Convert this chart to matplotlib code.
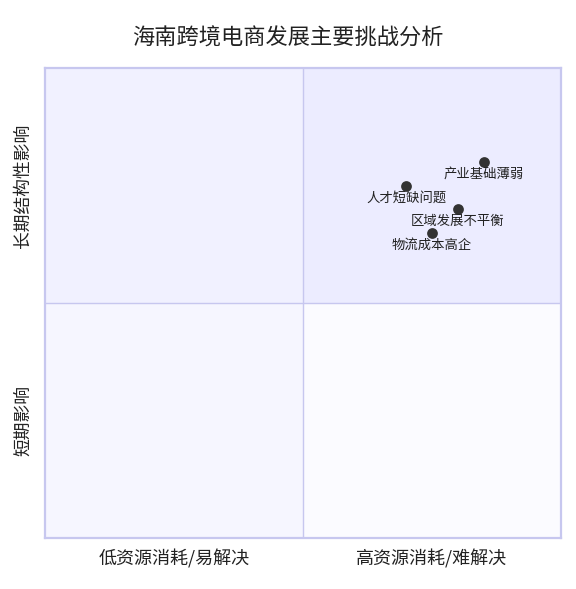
import matplotlib
matplotlib.use("Agg")
import matplotlib.pyplot as plt
from matplotlib.patches import Rectangle

plt.rcParams['font.family'] = ['Noto Sans CJK SC', 'DejaVu Sans']

title = "海南跨境电商发展主要挑战分析"
x_labels = ["低资源消耗/易解决", "高资源消耗/难解决"]
y_labels = ["短期影响", "长期结构性影响"]
point_names = ["产业基础薄弱", "人才短缺问题", "区域发展不平衡", "物流成本高企"]
point_x = [0.85, 0.70, 0.80, 0.75]
point_y = [0.80, 0.75, 0.70, 0.65]

W, H = 576, 589
fig = plt.figure(figsize=(W / 100, H / 100), dpi=100)
L, R, T, B = 45, 561, 68, 538
ax = fig.add_axes([L / W, (H - B) / H, (R - L) / W, (B - T) / H])
ax.set_xlim(0, 1)
ax.set_ylim(0, 1)

fills = {(1, 1): "#ECECFF", (0, 1): "#F1F1FF", (0, 0): "#F6F6FF", (1, 0): "#FBFBFF"}
for (qx, qy), c in fills.items():
    ax.add_patch(Rectangle((qx * 0.5, qy * 0.5), 0.5, 0.5, facecolor=c, edgecolor="none", zorder=0))

border = "#C7C7EF"
ax.axvline(0.5, color=border, lw=1.0, zorder=1)
ax.axhline(0.5, color=border, lw=1.0, zorder=1)
for s in ax.spines.values():
    s.set_color(border)
    s.set_linewidth(1.6)
ax.set_xticks([])
ax.set_yticks([])

ax.scatter(point_x, point_y, s=60, color="#333333", zorder=3, linewidths=0)
for name, x, y in zip(point_names, point_x, point_y):
    ax.annotate(name, (x, y), xytext=(0, -3.5), textcoords="offset points",
                ha="center", va="top", fontsize=9.6, color="#222222", zorder=4)

fig.text(0.5, 1 - 38 / H, title, ha="center", va="center", fontsize=16, color="#222222")
for i, lab in enumerate(x_labels):
    xc = L + (R - L) * (0.25 + 0.5 * i)
    fig.text(xc / W, 1 - 559 / H, lab, ha="center", va="center", fontsize=13, color="#222222")
for i, lab in enumerate(y_labels):
    yc = B - (B - T) * (0.25 + 0.5 * i)
    fig.text(23 / W, 1 - yc / H, lab, ha="center", va="center", rotation=90, fontsize=12.8, color="#222222")

fig.savefig("out.png", dpi=100, facecolor="white")
